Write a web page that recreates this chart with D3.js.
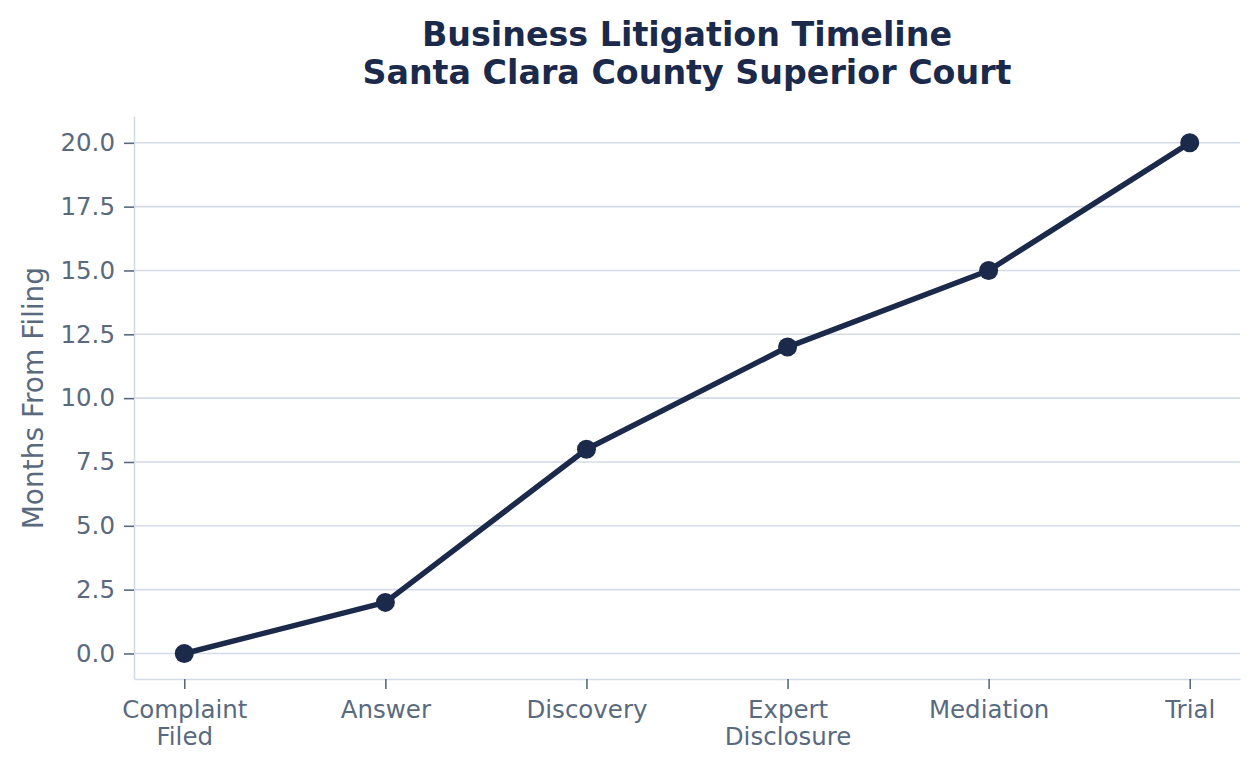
<!DOCTYPE html>
<html>
<head>
<meta charset="utf-8">
<script src="https://cdn.jsdelivr.net/npm/d3@7"></script>
<style>
  body { margin: 0; background: #ffffff; }
  text { font-family: "DejaVu Sans", sans-serif; }
</style>
</head>
<body>
<div id="plot"></div>
<script>
// Chart data
const stages = [["Complaint", "Filed"], ["Answer"], ["Discovery"], ["Expert", "Disclosure"], ["Mediation"], ["Trial"]];
const months = [0, 2, 8, 12, 15, 20];
const yTicks = [0, 2.5, 5, 7.5, 10, 12.5, 15, 17.5, 20];

const width = 1260;
const height = 770;
const margin = { top: 116, right: 20, bottom: 91, left: 134 };

const navy = "#1b2a4b";
const textColor = "#5a6a7e";
const gridColor = "#d3dbe7";

const svg = d3.select("#plot")
    .append("svg")
    .attr("width", width)
    .attr("height", height);

// Scales
const xScale = d3.scaleLinear()
    .domain([-0.25, stages.length - 0.75])
    .range([margin.left, width - margin.right]);

const yScale = d3.scaleLinear()
    .domain([-1, 21.05])
    .range([height - margin.bottom, margin.top]);

// Grid lines
svg.append("g")
    .selectAll("line")
    .data(yTicks)
    .join("line")
    .attr("x1", margin.left)
    .attr("x2", width - margin.right)
    .attr("y1", (d) => yScale(d))
    .attr("y2", (d) => yScale(d))
    .attr("stroke", gridColor)
    .attr("stroke-width", 1.6);

// Y axis
const yAxis = svg.append("g")
    .attr("transform", `translate(${margin.left},0)`)
    .call(d3.axisLeft(yScale).tickValues(yTicks).tickFormat(d3.format(".1f"))
        .tickSize(10).tickSizeOuter(0).tickPadding(9));
yAxis.select(".domain").attr("stroke", gridColor).attr("stroke-width", 1.6);
yAxis.selectAll(".tick line").attr("stroke", textColor).attr("stroke-width", 1.6);
yAxis.selectAll(".tick text")
    .attr("fill", textColor)
    .style("font-size", "24.5px");

// X axis
const xAxis = svg.append("g")
    .attr("transform", `translate(0,${height - margin.bottom})`)
    .call(d3.axisBottom(xScale).tickValues(d3.range(stages.length)).tickFormat("").tickSize(10).tickSizeOuter(0));
xAxis.select(".domain").attr("stroke", gridColor).attr("stroke-width", 1.6);
xAxis.selectAll(".tick line").attr("stroke", textColor).attr("stroke-width", 1.6);
xAxis.selectAll(".tick")
    .append("text")
    .attr("fill", textColor)
    .attr("text-anchor", "middle")
    .style("font-size", "24.5px")
    .selectAll("tspan")
    .data((d) => stages[d])
    .join("tspan")
    .attr("x", 0)
    .attr("y", (d, i) => 39 + i * 27)
    .text((d) => d);

// Y label
svg.append("text")
    .attr("transform", "rotate(-90)")
    .attr("x", -(yScale(10)))
    .attr("y", 43)
    .attr("text-anchor", "middle")
    .attr("fill", textColor)
    .style("font-size", "28px")
    .text("Months From Filing");

// Title
const title = svg.append("text")
    .attr("text-anchor", "middle")
    .attr("fill", navy)
    .style("font-size", "33.3px")
    .style("font-weight", "bold");
title.append("tspan").attr("x", 687).attr("y", 46).text("Business Litigation Timeline");
title.append("tspan").attr("x", 687).attr("y", 84).text("Santa Clara County Superior Court");

// Line and markers
const points = months.map((m, i) => [i, m]);

svg.append("path")
    .datum(points)
    .attr("fill", "none")
    .attr("stroke", navy)
    .attr("stroke-width", 5.5)
    .attr("stroke-linejoin", "round")
    .attr("d", d3.line().x((d) => xScale(d[0])).y((d) => yScale(d[1])));

svg.append("g")
    .selectAll("circle")
    .data(points)
    .join("circle")
    .attr("cx", (d) => xScale(d[0]))
    .attr("cy", (d) => yScale(d[1]))
    .attr("r", 9.5)
    .attr("fill", navy);
</script>
</body>
</html>
